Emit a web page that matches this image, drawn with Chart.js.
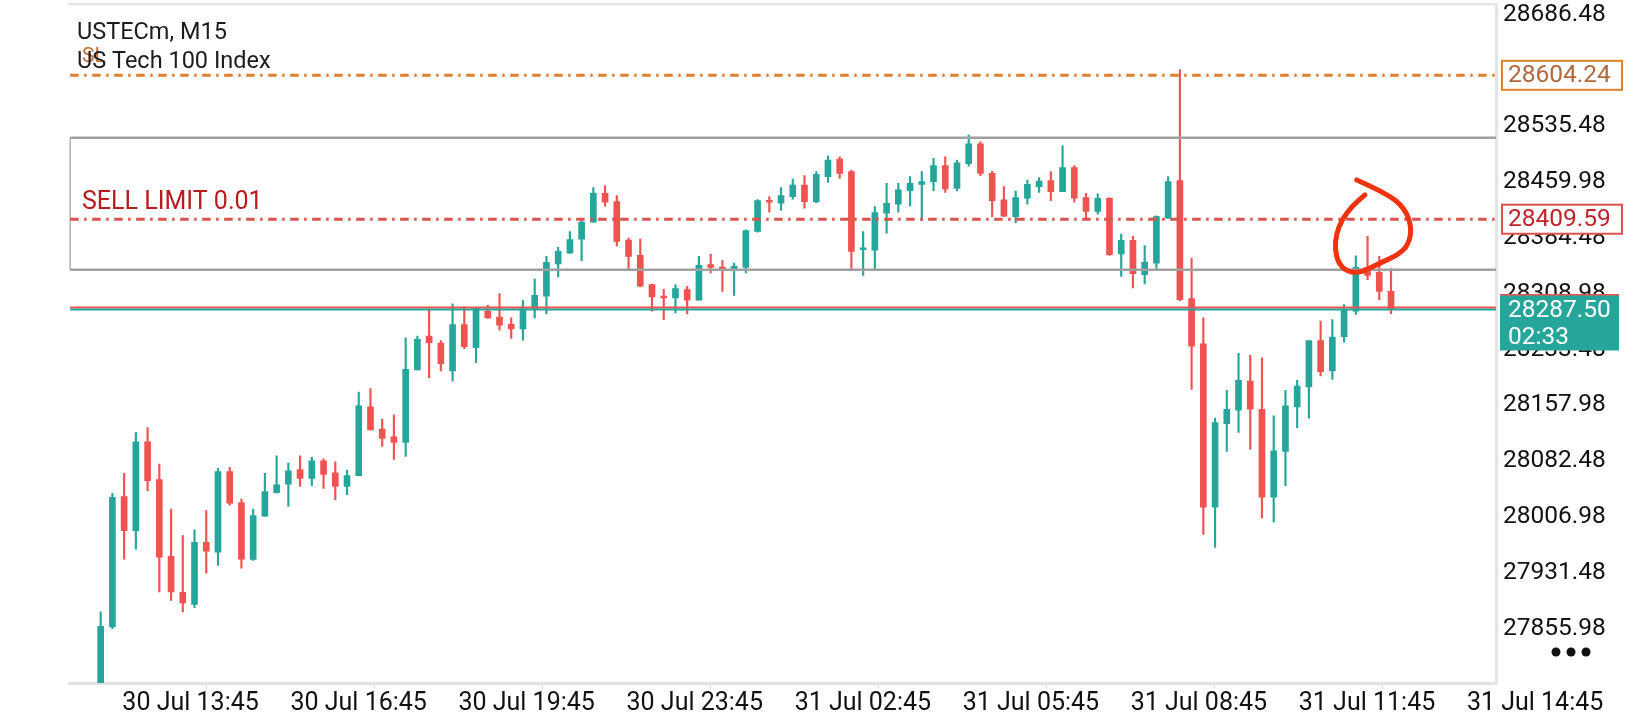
<!DOCTYPE html>
<html>
<head>
<meta charset="utf-8">
<title>USTECm, M15</title>
<script src="https://cdn.jsdelivr.net/npm/chart.js@4.4.1/dist/chart.umd.min.js"></script>
<style>
  html, body { margin: 0; padding: 0; background: #fff; }
  canvas { display: block; }
</style>
</head>
<body>
<canvas id="myChart" width="1640" height="720"></canvas>
<script>
// 15 minute candles (oldest first)
const opens = [
  27780.0, 27858.2, 28034.3, 27988.5, 28108.5, 28057.3, 27953.5, 27904.9, 27888.7, 27972.4,
  27959.3, 28068.1, 28026.3, 27949.4, 28007.8, 28039.8, 28051.4, 28070.8, 28059.1, 28082.9,
  28066.7, 28048.3, 28062.7, 28155.7, 28125.6, 28115.3, 28107.6, 28205.6, 28251.5, 28242.0,
  28204.3, 28267.2, 28235.7, 28285.2, 28277.1, 28267.6, 28261.3, 28287.4, 28305.4, 28349.0,
  28363.8, 28382.7, 28405.6, 28444.7, 28433.5, 28381.3, 28360.7, 28321.1, 28305.8, 28303.1,
  28314.4, 28300.0, 28348.1, 28344.5, 28342.2, 28344.5, 28393.0, 28434.8, 28431.2, 28440.2,
  28455.9, 28433.5, 28467.2, 28491.0, 28473.9, 28368.3, 28367.8, 28417.7, 28429.9, 28448.3,
  28456.8, 28460.4, 28482.0, 28451.4, 28484.7, 28511.7, 28471.7, 28435.7, 28413.2, 28438.0,
  28453.7, 28461.8, 28446.9, 28479.3, 28438.9, 28420.0, 28438.0, 28362.5, 28380.9, 28334.6,
  28350.3, 28411.0, 28461.8, 28302.2, 28241.1, 28020.0, 28133.2, 28151.2, 28190.8, 28152.6,
  28033.5, 28095.5, 28155.7, 28182.7, 28245.6, 28204.3, 28250.6, 28285.2, 28344.5, 28337.7,
  28312.1
];
const highs = [
  27878.4, 28038.8, 28065.8, 28121.1, 28127.9, 28078.4, 28017.7, 27981.8, 27989.4, 28015.5,
  28072.6, 28073.9, 28031.2, 28017.7, 28065.8, 28089.6, 28079.8, 28089.6, 28087.4, 28085.6,
  28081.6, 28070.3, 28175.9, 28180.4, 28139.1, 28144.9, 28249.2, 28251.5, 28287.4, 28245.6,
  28295.0, 28291.0, 28290.5, 28293.2, 28309.0, 28276.2, 28300.0, 28328.8, 28359.3, 28371.5,
  28393.0, 28407.4, 28452.3, 28455.0, 28441.6, 28384.0, 28382.7, 28322.0, 28314.8, 28321.1,
  28318.9, 28359.3, 28362.5, 28353.9, 28350.3, 28395.3, 28436.2, 28440.2, 28452.3, 28464.0,
  28468.5, 28473.9, 28495.5, 28494.1, 28476.2, 28393.0, 28426.7, 28458.2, 28458.2, 28467.2,
  28473.9, 28491.9, 28494.1, 28489.6, 28523.3, 28514.4, 28474.8, 28453.7, 28447.8, 28462.7,
  28465.8, 28473.9, 28508.9, 28482.0, 28444.7, 28443.8, 28438.9, 28389.4, 28386.3, 28374.1,
  28414.1, 28467.2, 28612.0, 28357.0, 28276.2, 28140.4, 28178.2, 28228.1, 28225.4, 28222.2,
  28143.6, 28178.2, 28191.7, 28245.6, 28271.7, 28273.9, 28294.1, 28360.2, 28386.3, 28359.3,
  28342.7
];
const lows = [
  27770.0, 27855.9, 27949.9, 27963.3, 28042.5, 27905.4, 27894.1, 27878.4, 27884.3, 27931.0,
  27941.3, 28022.7, 27937.7, 27948.1, 28007.8, 28038.9, 28021.3, 28048.3, 28049.2, 28045.6,
  28030.3, 28037.1, 28062.7, 28124.7, 28102.2, 28084.7, 28088.8, 28205.6, 28195.3, 28204.3,
  28190.8, 28234.4, 28215.5, 28275.5, 28259.5, 28248.3, 28246.0, 28276.2, 28281.6, 28331.5,
  28363.8, 28353.5, 28405.6, 28427.2, 28373.2, 28342.7, 28318.0, 28285.2, 28273.9, 28282.9,
  28281.6, 28300.0, 28336.8, 28312.1, 28306.7, 28336.8, 28392.1, 28419.1, 28421.8, 28436.6,
  28424.5, 28432.1, 28459.5, 28464.9, 28342.7, 28333.7, 28341.3, 28390.8, 28419.1, 28427.6,
  28407.8, 28448.3, 28446.0, 28447.8, 28481.5, 28468.5, 28413.2, 28413.2, 28405.1, 28429.9,
  28446.0, 28434.8, 28446.9, 28432.6, 28408.7, 28416.4, 28360.7, 28332.3, 28316.6, 28322.0,
  28342.7, 28411.0, 28299.5, 28179.5, 27983.1, 27965.6, 28095.5, 28121.1, 28098.6, 28005.6,
  27999.8, 28049.2, 28127.8, 28140.4, 28197.5, 28193.0, 28243.4, 28280.7, 28327.9, 28300.9,
  28282.0
];
const closes = [
  27859.1, 28033.5, 27988.5, 28108.5, 28055.9, 27952.6, 27905.4, 27890.5, 27972.4, 27960.7,
  28068.1, 28025.4, 27949.9, 28008.7, 28041.1, 28050.5, 28069.4, 28059.1, 28082.9, 28064.5,
  28048.3, 28062.7, 28157.1, 28124.7, 28113.0, 28107.6, 28206.5, 28247.0, 28242.5, 28214.2,
  28267.2, 28237.1, 28289.6, 28276.2, 28266.3, 28261.3, 28288.3, 28306.7, 28351.2, 28366.1,
  28382.2, 28405.6, 28444.7, 28432.6, 28379.5, 28359.3, 28318.9, 28304.5, 28303.1, 28315.7,
  28300.0, 28347.2, 28344.5, 28342.2, 28345.8, 28394.4, 28434.8, 28432.6, 28441.5, 28455.9,
  28433.5, 28470.3, 28489.6, 28471.7, 28366.0, 28370.1, 28418.6, 28431.2, 28449.2, 28458.2,
  28460.4, 28482.0, 28450.5, 28486.0, 28511.7, 28471.7, 28434.8, 28413.7, 28438.9, 28456.8,
  28461.3, 28446.9, 28479.3, 28438.0, 28420.0, 28438.0, 28361.6, 28380.9, 28335.9, 28351.7,
  28413.2, 28460.4, 28300.9, 28237.9, 28020.0, 28134.6, 28152.6, 28191.7, 28152.6, 28033.5,
  28096.4, 28157.1, 28184.0, 28245.6, 28203.4, 28250.1, 28287.4, 28344.5, 28333.7, 28312.1,
  28287.5
];

// time axis: labels and the bar position each one sits at
const timeLabels = [
  "30 Jul 13:45", "30 Jul 16:45", "30 Jul 19:45", "30 Jul 23:45", "31 Jul 02:45",
  "31 Jul 05:45", "31 Jul 08:45", "31 Jul 11:45", "31 Jul 14:45"
];
const timeTickIndex = [1.85, 16.18, 30.5, 44.83, 59.16, 73.49, 87.81, 102.14, 116.47];

// price axis
const priceTicks = [
  27855.98, 27931.48, 28006.98, 28082.48, 28157.98, 28233.48,
  28308.98, 28384.48, 28459.98, 28535.48, 28610.98, 28686.48
];

// order / price levels
const stopLoss = 28604.24;
const sellLimit = 28409.59;
const bidPrice = 28287.50;
const askPrice = 28290.2;
const timerText = "02:33";
const zoneTop = 28519.8;
const zoneBottom = 28341.4;
const zoneStart = -2.6;

// hand drawn mark (bar index, price)
const scribble = [
  [107.08, 28462.7], [109.63, 28444.7], [111.19, 28424.4], [111.77, 28397.5],
  [111.48, 28375.1], [110.62, 28361.6], [109.06, 28350.3], [107.36, 28336.8],
  [106.22, 28339.1], [105.51, 28350.3], [105.23, 28368.3], [105.31, 28388.6],
  [105.8, 28408.8], [106.65, 28426.7], [107.78, 28442.5]
];

const UP = "#26a69a";
const DOWN = "#ef5350";
const FONT = "Roboto";
const candleColor = (c) => (closes[c.dataIndex] >= opens[c.dataIndex] ? UP : DOWN);

const overlay = {
  id: "overlay",
  afterDatasetsDraw(chart) {
    const { ctx, chartArea: a } = chart;
    const xs = chart.scales.x, ys = chart.scales.y;
    ctx.save();

    // rectangle zone
    const zx = xs.getPixelForValue(zoneStart);
    const zt = ys.getPixelForValue(zoneTop);
    const zb = ys.getPixelForValue(zoneBottom);
    ctx.strokeStyle = "#a0a0a0";
    ctx.lineWidth = 2.5;
    ctx.beginPath();
    ctx.moveTo(a.right, zt); ctx.lineTo(zx, zt);
    ctx.moveTo(zx, zb); ctx.lineTo(a.right, zb);
    ctx.stroke();
    ctx.lineWidth = 1.2;
    ctx.beginPath();
    ctx.moveTo(zx, zt); ctx.lineTo(zx, zb);
    ctx.stroke();

    // dash-dot order lines
    const level = (v, color) => {
      const y = ys.getPixelForValue(v);
      ctx.strokeStyle = color;
      ctx.lineWidth = 3;
      ctx.setLineDash([8.5, 5.5, 2.5, 5.5]);
      ctx.beginPath();
      ctx.moveTo(zx, y); ctx.lineTo(a.right, y);
      ctx.stroke();
      ctx.setLineDash([]);
      return y;
    };
    const ySL = level(stopLoss, "#e0802c");
    const ySell = level(sellLimit, "#d9534f");

    // ask / bid lines
    const yAsk = ys.getPixelForValue(askPrice);
    const yBid = ys.getPixelForValue(bidPrice);
    ctx.lineWidth = 2;
    ctx.strokeStyle = DOWN;
    ctx.beginPath(); ctx.moveTo(zx, yAsk); ctx.lineTo(a.right, yAsk); ctx.stroke();
    ctx.strokeStyle = UP;
    ctx.beginPath(); ctx.moveTo(zx, yBid); ctx.lineTo(a.right, yBid); ctx.stroke();

    // labels on the left
    ctx.textBaseline = "middle";
    ctx.textAlign = "left";
    ctx.fillStyle = "#b71c1c";
    ctx.font = "25px " + FONT;
    ctx.fillText("SELL LIMIT 0.01", 82, ySell - 16);
    ctx.fillStyle = "#c4733e";
    ctx.font = "21px " + FONT;
    ctx.fillText("SL", 82, ySL - 19);

    ctx.fillStyle = "#1c1c1c";
    ctx.font = "23.5px " + FONT;
    ctx.fillText("USTECm, M15", 77, 33);
    ctx.fillText("US Tech 100 Index", 77, 62);

    // hand drawn circle
    const pts = scribble.map(p => [xs.getPixelForValue(p[0]), ys.getPixelForValue(p[1])]);
    ctx.strokeStyle = "#f0320f";
    ctx.lineWidth = 5;
    ctx.lineCap = "round";
    ctx.lineJoin = "round";
    ctx.beginPath();
    ctx.moveTo(pts[0][0], pts[0][1]);
    for (let i = 1; i < pts.length - 1; i++) {
      const mx = (pts[i][0] + pts[i + 1][0]) / 2;
      const my = (pts[i][1] + pts[i + 1][1]) / 2;
      ctx.quadraticCurveTo(pts[i][0], pts[i][1], mx, my);
    }
    const last = pts[pts.length - 1];
    ctx.lineTo(last[0], last[1]);
    ctx.stroke();
    ctx.restore();
  },
  afterDraw(chart) {
    const { ctx, chartArea: a } = chart;
    const ys = chart.scales.y;
    ctx.save();

    // frame top line
    ctx.strokeStyle = "#e6e6e6";
    ctx.lineWidth = 2.5;
    ctx.beginPath();
    ctx.moveTo(a.left - 1, a.top); ctx.lineTo(a.right + 1, a.top);
    ctx.stroke();

    // price tags on the axis (they hide the tick label underneath)
    ctx.font = "24.5px " + FONT;
    ctx.textBaseline = "middle";
    ctx.textAlign = "left";
    const tag = (v, border, color) => {
      const y = ys.getPixelForValue(v);
      ctx.fillStyle = "#fff";
      ctx.fillRect(a.right + 4, y - 21, 136, 36);
      ctx.strokeStyle = border;
      ctx.lineWidth = 2;
      ctx.strokeRect(a.right + 6, y - 14.5, 120, 29);
      ctx.fillStyle = color;
      ctx.fillText(v.toFixed(2), a.right + 12, y + 1);
    };
    tag(stopLoss, "#e0802c", "#b0683c");

    const ysl = ys.getPixelForValue(sellLimit);
    ctx.fillStyle = "#fff";
    ctx.fillRect(a.right + 6, ysl - 14.5, 120, 29);
    ctx.strokeStyle = "#d9534f";
    ctx.lineWidth = 2;
    ctx.strokeRect(a.right + 6, ysl - 14.5, 120, 29);
    ctx.fillStyle = "#c0232a";
    ctx.fillText(sellLimit.toFixed(2), a.right + 12, ysl + 1);

    const yb = ys.getPixelForValue(bidPrice);
    ctx.fillStyle = UP;
    ctx.fillRect(a.right + 4, yb - 15, 119, 56);
    ctx.fillStyle = DOWN;
    ctx.fillRect(a.right + 4, yb - 15.5, 119, 1.5);
    ctx.fillStyle = "#fff";
    ctx.fillText(bidPrice.toFixed(2), a.right + 12, yb + 1);
    ctx.fillText(timerText, a.right + 12, yb + 28);

    // menu dots
    ctx.fillStyle = "#111";
    [1556, 1571, 1586].forEach(x => {
      ctx.beginPath();
      ctx.arc(x, 652, 4.5, 0, Math.PI * 2);
      ctx.fill();
    });
    ctx.restore();
  }
};

const idx = opens.map((_, i) => i);

const ctx = document.getElementById("myChart");
const myChart = new Chart(ctx, {
  type: "bar",
  data: {
    datasets: [
      {
        label: "body",
        data: idx.map(i => ({ x: i, y: [opens[i], closes[i]] })),
        backgroundColor: candleColor,
        barThickness: 6,
        minBarLength: 2,
        grouped: false,
      },
      {
        label: "wick",
        data: idx.map(i => ({ x: i, y: [lows[i], highs[i]] })),
        backgroundColor: candleColor,
        barThickness: 1.5,
        grouped: false,
      },
    ],
  },
  options: {
    responsive: false,
    animation: false,
    devicePixelRatio: 1,
    layout: { padding: { left: 69, top: 2, right: 0, bottom: 0 } },
    plugins: { legend: { display: false }, tooltip: { enabled: false } },
    scales: {
      x: {
        type: "linear",
        min: -2.7,
        max: 118.95,
        offset: false,
        afterBuildTicks: (s) => { s.ticks = timeTickIndex.map(v => ({ value: v })); },
        afterFit: (s) => { s.height = 37; },
        grid: { drawOnChartArea: false, color: "#e3e3e3", tickLength: 6 },
        border: { color: "#e3e3e3", width: 3 },
        ticks: {
          autoSkip: false,
          maxRotation: 0,
          minRotation: 0,
          align: "start",
          padding: 0,
          color: "#111",
          font: { family: FONT, size: 25 },
          callback: (v, i) => timeLabels[i],
        },
      },
      y: {
        position: "right",
        min: 27782.3,
        max: 28700.4,
        afterBuildTicks: (s) => { s.ticks = priceTicks.map(v => ({ value: v })); },
        afterFit: (s) => { s.width = 144; },
        grid: { drawOnChartArea: false, color: "#e3e3e3", tickLength: 4 },
        border: { color: "#e3e3e3", width: 3 },
        ticks: {
          padding: 3,
          color: "#111",
          font: { family: FONT, size: 24.5, lineHeight: 0.1 },
          callback: (v) => Number(v).toFixed(2),
        },
      },
    },
  },
  plugins: [overlay],
});
</script>
</body>
</html>
